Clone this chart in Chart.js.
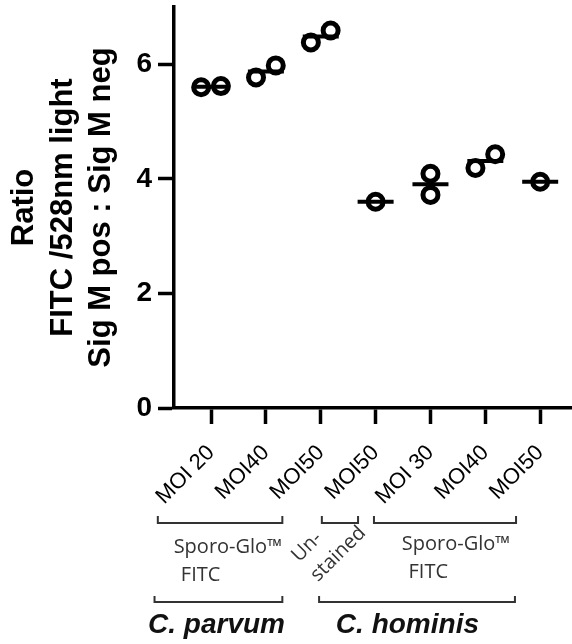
<!DOCTYPE html>
<html>
<head>
<meta charset="utf-8">
<script src="https://cdn.jsdelivr.net/npm/chart.js@4.4.1/dist/chart.umd.min.js"></script>
<style>
  html, body { margin: 0; padding: 0; background: #fff; }
  #wrap { width: 572px; height: 644px; }
</style>
</head>
<body>
<div id="wrap"><canvas id="chart"></canvas></div>
<script>
const categories = ['MOI 20', 'MOI40', 'MOI50', 'MOI50', 'MOI 30', 'MOI40', 'MOI50'];
const replicate1 = [5.60, 5.77, 6.38, 3.60, 4.09, 4.19, 3.95];
const replicate2 = [5.62, 5.98, 6.59, null, 3.72, 4.43, null];
const yTicks = [0, 2, 4, 6];
const yTitle = ['Ratio', 'FITC /528nm light', 'Sig M pos : Sig M neg'];
const stainLabels = ['Sporo-Glo™', 'FITC', 'Un-', 'stained'];
const speciesLabels = ['C. parvum', 'C. hominis'];

// replicates side by side when they would overlap, stacked otherwise
const points = [];
const means = [];
categories.forEach((c, i) => {
    const vals = [replicate1[i], replicate2[i]].filter(v => v !== null);
    const spread = vals.length === 2 && Math.abs(vals[0] - vals[1]) < 0.35 ? 0.18 : 0;
    vals.forEach((v, j) => {
        points.push({ x: i + 1 + (j === 0 ? -spread : spread) * (vals.length - 1), y: v });
    });
    means.push({ x: i + 1, y: vals.reduce((a, b) => a + b, 0) / vals.length });
});

// brackets and group names under the x axis
const groupLabels = {
    id: 'groupLabels',
    afterDraw(chart) {
        const { ctx, chartArea } = chart;
        const x = chart.scales.x;
        const base = chartArea.bottom;
        const px = v => x.getPixelForValue(v);

        ctx.save();
        ctx.strokeStyle = '#333';
        ctx.lineWidth = 2;
        const bracket = (a, b, dy, h) => {
            ctx.beginPath();
            ctx.moveTo(px(a), base + dy - h);
            ctx.lineTo(px(a), base + dy);
            ctx.lineTo(px(b), base + dy);
            ctx.lineTo(px(b), base + dy - h);
            ctx.stroke();
        };
        bracket(0.03, 2.3, 115, 7);
        bracket(3.02, 3.68, 115, 7);
        bracket(3.97, 6.56, 115, 7);
        bracket(-0.03, 2.3, 194, 6);
        bracket(2.97, 6.54, 194, 6);

        ctx.fillStyle = '#333';
        ctx.font = '20px "Open Sans"';
        ctx.textAlign = 'center';
        ctx.textBaseline = 'middle';
        ctx.fillText(stainLabels[0], px(1.31), base + 139);
        ctx.fillText(stainLabels[1], px(0.81), base + 167);
        ctx.fillText(stainLabels[0], px(5.47), base + 136);
        ctx.fillText(stainLabels[1], px(4.96), base + 164);

        const rotated = (text, u, dy) => {
            ctx.save();
            ctx.translate(px(u), base + dy);
            ctx.rotate(-Math.PI / 4);
            ctx.fillText(text, 0, 0);
            ctx.restore();
        };
        rotated(stainLabels[2], 2.75, 139);
        rotated(stainLabels[3], 3.32, 146);

        ctx.fillStyle = '#111';
        ctx.font = 'italic bold 28px "Liberation Sans"';
        ctx.fillText(speciesLabels[0], px(1.1), base + 217);
        ctx.fillText(speciesLabels[1], px(4.58), base + 217);
        ctx.restore();
    }
};

const ctx = document.getElementById('chart').getContext('2d');
new Chart(ctx, {
    type: 'scatter',
    data: {
        datasets: [
            {
                label: 'Mean',
                data: means,
                pointStyle: 'line',
                pointRadius: 18,
                pointHoverRadius: 18,
                borderWidth: 4,
                borderColor: '#000',
            },
            {
                label: 'Replicates',
                data: points,
                pointStyle: 'circle',
                pointRadius: 7.5,
                pointHoverRadius: 7.5,
                borderWidth: 5,
                borderColor: '#000',
                backgroundColor: 'rgba(0,0,0,0)',
            },
        ],
    },
    options: {
        responsive: true,
        maintainAspectRatio: false,
        animation: false,
        events: [],
        layout: { autoPadding: false, padding: { top: 7, left: 0, right: 0, bottom: 0 } },
        plugins: {
            legend: { display: false },
            tooltip: { enabled: false },
        },
        scales: {
            x: {
                type: 'linear',
                min: 0.325,
                max: 7.58,
                afterBuildTicks: s => { s.ticks = categories.map((c, i) => ({ value: i + 1 })); },
                afterFit: s => { s.height = 236; s.paddingLeft = 0; s.paddingRight = 0; },
                ticks: {
                    callback: (v, i) => categories[i],
                    autoSkip: false,
                    minRotation: 45,
                    maxRotation: 45,
                    padding: 16,
                    color: '#000',
                    font: { family: 'Liberation Sans', size: 22 },
                },
                grid: { drawOnChartArea: false, tickLength: 16, tickWidth: 3.5, color: '#000' },
                border: { width: 3.5, color: '#000' },
            },
            y: {
                min: 0,
                max: 7,
                afterBuildTicks: s => { s.ticks = yTicks.map(v => ({ value: v })); },
                afterFit: s => { s.width = 174; s.paddingTop = 0; s.paddingBottom = 0; },
                ticks: {
                    padding: 6,
                    color: '#000',
                    font: { family: 'Liberation Sans', size: 28, weight: 'bold' },
                },
                grid: { drawOnChartArea: false, tickLength: 16, tickWidth: 3.5, color: '#000' },
                border: { width: 3.5, color: '#000' },
                title: {
                    display: true,
                    text: yTitle,
                    color: '#000',
                    padding: { top: 5, bottom: 0 },
                    font: { family: 'Liberation Sans', size: 31, weight: 'bold', lineHeight: 1.25 },
                },
            },
        },
    },
    plugins: [groupLabels],
});
</script>
</body>
</html>
